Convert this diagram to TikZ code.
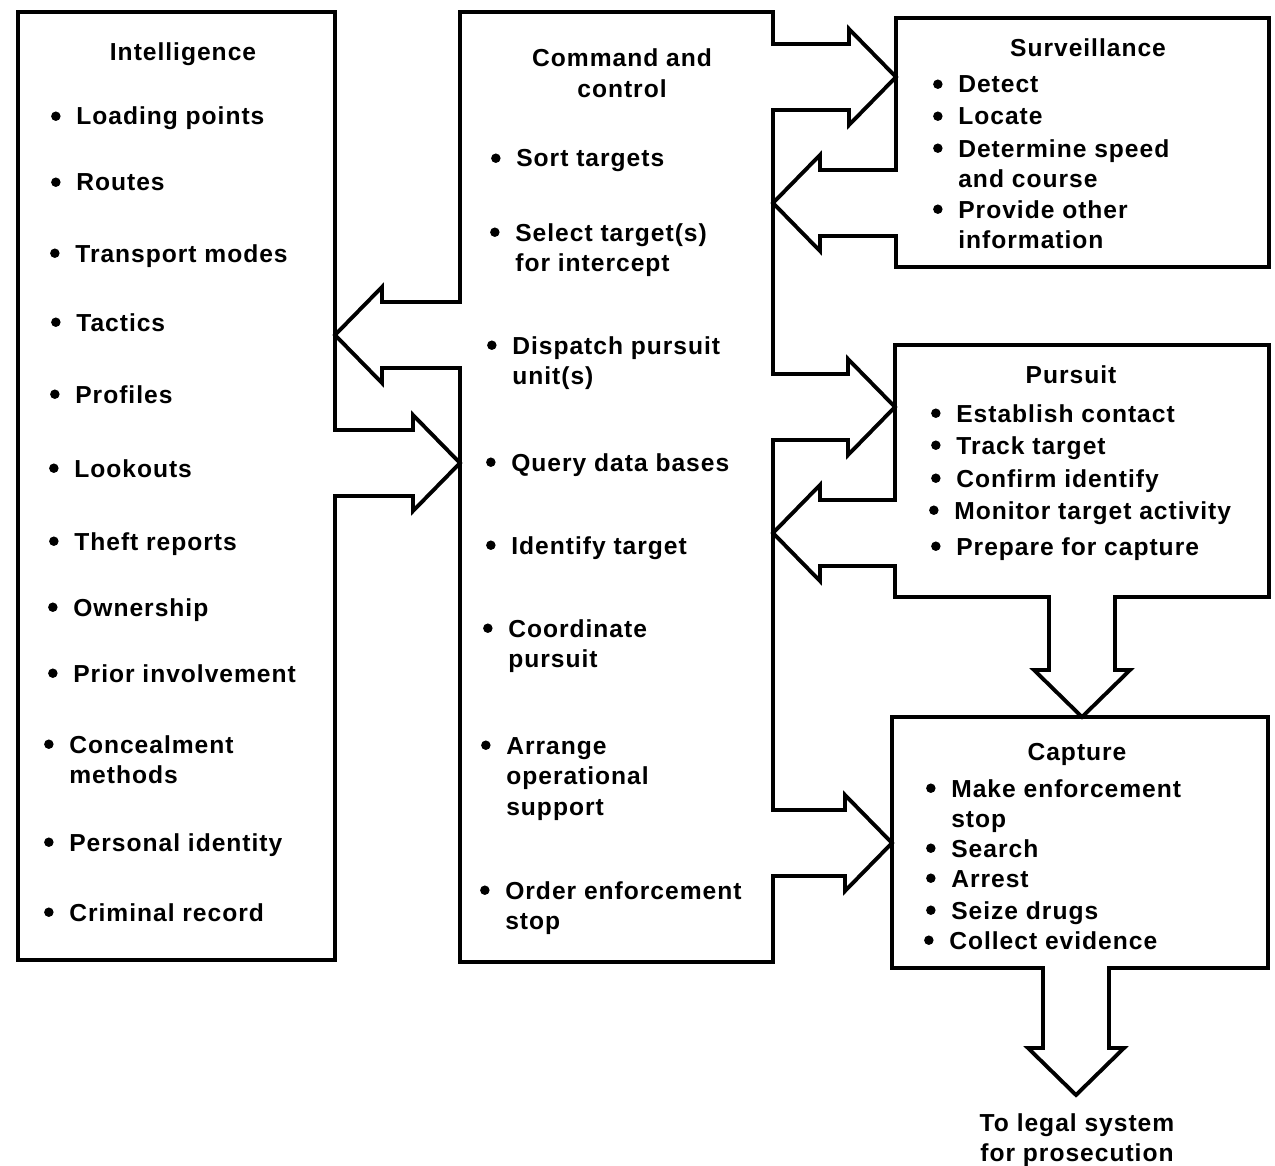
\documentclass[tikz,border=0pt]{standalone}
\usepackage{fontspec}
\setmainfont{Liberation Sans}[LetterSpace=4]
\usetikzlibrary{calc,fit}

% bullet item and centred title (lines split by \\)
\newcommand\bl{\makebox[0.54cm][l]{\hspace{1pt}\tikz[baseline=0pt]\fill (0,5pt) circle (2.7pt);}}
\newcommand\itm[1]{\bl\vtop{\let\\\cr\halign{##\hfil\cr#1\crcr}}}
\newcommand\ttl[1]{\vtop{\let\\\cr\halign{\hfil##\hfil\cr#1\crcr}}}

% hollow block arrow from #1 (on the source edge) to #2 (tip)
\newcommand\blockarr[2]{%
  \coordinate (s) at (#1);
  \coordinate (t) at (#2);
  \coordinate (b) at ($(s)!-0.08cm!(t)$);
  \coordinate (h) at ($(t)!0.94cm!(s)$);
  \fill[white] ($(b)!0.66cm!90:(t)$) -- ($(h)!0.66cm!90:(t)$) -- ($(h)!0.96cm!90:(t)$)
    -- (t) -- ($(h)!0.96cm!-90:(t)$) -- ($(h)!0.66cm!-90:(t)$) -- ($(b)!0.66cm!-90:(t)$) -- cycle;
  \draw[line width=2.2pt,line cap=rect] ($(s)!0.66cm!90:(t)$) -- ($(h)!0.66cm!90:(t)$) -- ($(h)!0.96cm!90:(t)$)
    -- (t) -- ($(h)!0.96cm!-90:(t)$) -- ($(h)!0.66cm!-90:(t)$) -- ($(s)!0.66cm!-90:(t)$);
}

\tikzset{
  box/.style={draw,line width=2.2pt,inner sep=0pt,outer sep=0pt},
  txt/.style={inner sep=0pt,font=\fontsize{14}{17.4}\selectfont\bfseries},
}

\begin{document}
\begin{tikzpicture}[x=0.02cm,y=-0.02cm]
\useasboundingbox (0,0) rectangle (1275,1166);

% boxes
\node[box,fit={(18,12) (335,960)}] (intel) {};
\node[box,fit={(460,12) (773,962)}] (cmd) {};
\node[box,fit={(896,18) (1269,267)}] (surv) {};
\node[box,fit={(895,345) (1269,597)}] (purs) {};
\node[box,fit={(892,717) (1268,968)}] (capt) {};
\coordinate (legal) at (1076,1095);

% arrows
\blockarr{cmd.east |- 0,77}{surv.west |- 0,77}
\blockarr{surv.west |- 0,203}{cmd.east |- 0,203}
\blockarr{cmd.east |- 0,407}{purs.west |- 0,407}
\blockarr{purs.west |- 0,533}{cmd.east |- 0,533}
\blockarr{cmd.east |- 0,843}{capt.west |- 0,843}
\blockarr{cmd.west |- 0,335}{intel.east |- 0,335}
\blockarr{intel.east |- 0,463}{cmd.west |- 0,463}
\blockarr{purs.south -| 1082,0}{capt.north -| 1082,0}
\blockarr{capt.south -| 1076,0}{legal}

% Intelligence
\node[txt,anchor=base] (intelT) at (183,61) {Intelligence};
\node[txt,anchor=base west] (i1) at (49,125) {\itm{Loading points}};
\node[txt,anchor=base west] (i2) at (49,191) {\itm{Routes}};
\node[txt,anchor=base west] (i3) at (48,262) {\itm{Transport modes}};
\node[txt,anchor=base west] (i4) at (49,331) {\itm{Tactics}};
\node[txt,anchor=base west] (i5) at (48,403) {\itm{Profiles}};
\node[txt,anchor=base west] (i6) at (47,477) {\itm{Lookouts}};
\node[txt,anchor=base west] (i7) at (47,550) {\itm{Theft reports}};
\node[txt,anchor=base west] (i8) at (46,616) {\itm{Ownership}};
\node[txt,anchor=base west] (i9) at (46,682) {\itm{Prior involvement}};
\node[txt,anchor=base west] (i10) at (42,753) {\itm{Concealment\\methods}};
\node[txt,anchor=base west] (i11) at (42,851) {\itm{Personal identity}};
\node[txt,anchor=base west] (i12) at (42,921) {\itm{Criminal record}};

% Command and control
\node[txt,anchor=base] (cmdT) at (622,67) {\ttl{Command and\\control}};
\node[txt,anchor=base west] (c1) at (489,167) {\itm{Sort targets}};
\node[txt,anchor=base west] (c2) at (488,241) {\itm{Select target(s)\\for intercept}};
\node[txt,anchor=base west] (c3) at (485,354) {\itm{Dispatch pursuit\\unit(s)}};
\node[txt,anchor=base west] (c4) at (484,471) {\itm{Query data bases}};
\node[txt,anchor=base west] (c5) at (484,554) {\itm{Identify target}};
\node[txt,anchor=base west] (c6) at (481,637) {\itm{Coordinate\\pursuit}};
\node[txt,anchor=base west] (c7) at (479,754) {\itm{Arrange\\operational\\support}};
\node[txt,anchor=base west] (c8) at (478,899) {\itm{Order enforcement\\stop}};

% Surveillance
\node[txt,anchor=base] (survT) at (1088,57) {Surveillance};
\node[txt,anchor=base west] (s1) at (931,93) {\itm{Detect}};
\node[txt,anchor=base west] (s2) at (931,125) {\itm{Locate}};
\node[txt,anchor=base west] (s3) at (931,157) {\itm{Determine speed\\and course}};
\node[txt,anchor=base west] (s4) at (931,218) {\itm{Provide other\\information}};

% Pursuit
\node[txt,anchor=base] (pursT) at (1071,383) {Pursuit};
\node[txt,anchor=base west] (p1) at (929,422) {\itm{Establish contact}};
\node[txt,anchor=base west] (p2) at (929,454) {\itm{Track target}};
\node[txt,anchor=base west] (p3) at (929,487) {\itm{Confirm identify}};
\node[txt,anchor=base west] (p4) at (927,519) {\itm{Monitor target activity}};
\node[txt,anchor=base west] (p5) at (929,555) {\itm{Prepare for capture}};

% Capture
\node[txt,anchor=base] (captT) at (1077,760) {Capture};
\node[txt,anchor=base west] (k1) at (924,797) {\itm{Make enforcement\\stop}};
\node[txt,anchor=base west] (k2) at (924,857) {\itm{Search}};
\node[txt,anchor=base west] (k3) at (924,887) {\itm{Arrest}};
\node[txt,anchor=base west] (k4) at (924,919) {\itm{Seize drugs}};
\node[txt,anchor=base west] (k5) at (922,949) {\itm{Collect evidence}};

\node[txt,anchor=base] (legalT) at (1077,1131) {\ttl{To legal system\\for prosecution}};

\end{tikzpicture}
\end{document}
